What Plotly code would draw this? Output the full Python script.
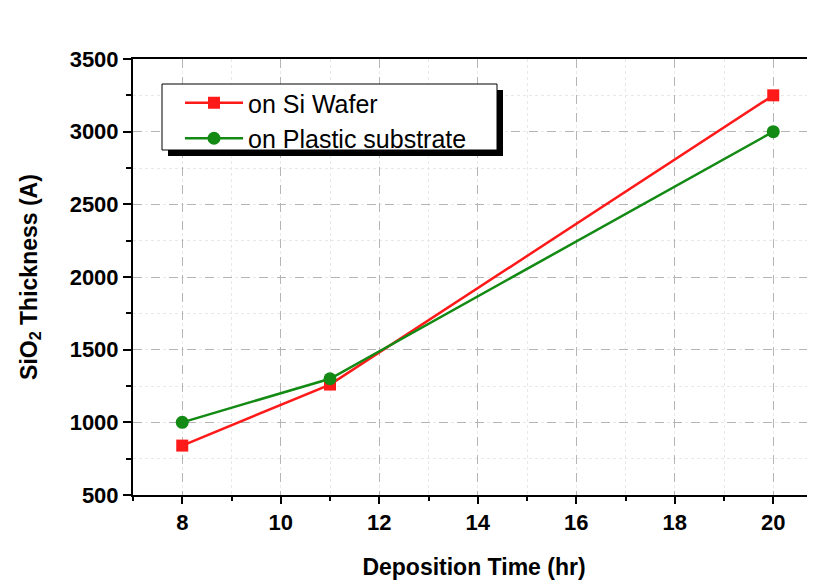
import plotly.graph_objects as go

time_hr = [8, 11, 20]
si_wafer = [840, 1260, 3250]
plastic = [1000, 1300, 3000]
names = ["on Si Wafer", "on Plastic substrate"]

# page body has an 8px margin, so work in figure pixel coordinates (screen - 8)
OFF = 8
W, H = 815 - OFF, 581 - OFF
ml, mt = 133 - OFF, 59 - OFF
plot_bottom = 495 - OFF
mr, mb = 0, H - plot_bottom
pw, ph = W - ml - mr, H - mt - mb

def px_x(p):
    return (p - OFF - ml) / pw

def px_y(p):
    return (H - mb - (p - OFF)) / ph

fig = go.Figure()
fig.add_trace(go.Scatter(x=time_hr, y=si_wafer, mode="lines+markers", name=names[0],
                         line=dict(color="#ff1a1a", width=2.5),
                         marker=dict(symbol="square", size=12, color="#ff1a1a")))
fig.add_trace(go.Scatter(x=time_hr, y=plastic, mode="lines+markers", name=names[1],
                         line=dict(color="#138a13", width=2.5),
                         marker=dict(symbol="circle", size=13, color="#138a13")))

# legend shadow and box (screen coordinates from reference)
fig.add_shape(type="rect", xref="paper", yref="paper",
              x0=px_x(168), x1=px_x(503), y0=px_y(156), y1=px_y(90),
              fillcolor="black", line=dict(width=0), layer="above")
fig.add_shape(type="rect", xref="paper", yref="paper",
              x0=px_x(162), x1=px_x(497), y0=px_y(150), y1=px_y(84),
              fillcolor="white", line=dict(width=1, color="black"), layer="above")

fig.update_layout(
    width=W, height=H,
    margin=dict(l=ml, r=mr, t=mt, b=mb, autoexpand=False),
    paper_bgcolor="white", plot_bgcolor="white",
    font=dict(family="Arial, Liberation Sans, sans-serif", color="black"),
    showlegend=True,
    legend=dict(x=px_x(180), y=px_y(80), xanchor="left", yanchor="top",
                bgcolor="rgba(0,0,0,0)", borderwidth=0,
                font=dict(size=25, color="black"), itemwidth=58,
                tracegroupgap=0),
)
fig.update_xaxes(range=[7, 7 + pw / 49.25], tickvals=[8, 10, 12, 14, 16, 18, 20],
                 automargin=False,
                 showline=True, linecolor="black", linewidth=2, mirror=True,
                 ticks="outside", ticklen=7, tickwidth=2, tickcolor="black",
                 tickfont=dict(size=22, weight="bold"),
                 showgrid=True, gridcolor="#b5b5b5", gridwidth=1, griddash="dash",
                 minor=dict(dtick=1, ticks="outside", ticklen=4, tickwidth=2, tickcolor="black",
                            showgrid=True, gridcolor="#e8e8e8", griddash="dot"),
                 zeroline=False,
                 title=dict(text="Deposition Time (hr)", font=dict(size=23, weight="bold"),
                            standoff=24))
fig.update_yaxes(range=[500, 3500], tickvals=[500, 1000, 1500, 2000, 2500, 3000, 3500],
                 automargin=False,
                 showline=True, linecolor="black", linewidth=2, mirror=False,
                 ticks="outside", ticklen=8, tickwidth=2, tickcolor="black",
                 tickfont=dict(size=22, weight="bold"),
                 showgrid=True, gridcolor="#b5b5b5", gridwidth=1, griddash="dash",
                 minor=dict(dtick=250, ticks="outside", ticklen=5, tickwidth=2, tickcolor="black",
                            showgrid=True, gridcolor="#e8e8e8", griddash="dot"),
                 zeroline=False,
                 title=dict(text="SiO<sub>2</sub> Thickness (A)", font=dict(size=23, weight="bold"),
                            standoff=26))

fig.write_html("out.html")
